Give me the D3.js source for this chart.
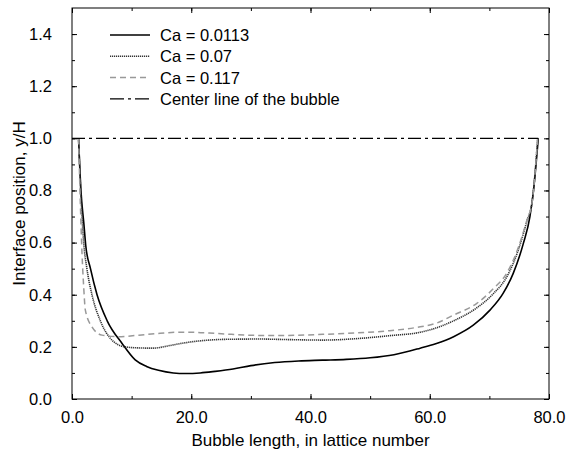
<!DOCTYPE html>
<html>
<head>
<meta charset="utf-8">
<script src="https://cdn.jsdelivr.net/npm/d3@7"></script>
<style>
  body { margin: 0; background: #fff; }
  svg { font-family: "Liberation Sans", Arial, Helvetica, sans-serif; }
</style>
</head>
<body>
<svg id="chart" width="578" height="450"></svg>
<script>
"use strict";

// lattice position vs interface position y/H
const ca0113 = [[1.1, 1.0], [1.5, 0.80], [2.0, 0.67], [2.3, 0.59], [3.1, 0.50], [4.2, 0.40], [5.9, 0.30],
    [8.4, 0.213], [10.6, 0.15], [12.5, 0.125], [14.5, 0.11], [17, 0.100], [19, 0.098], [21.5, 0.100],
    [24, 0.106], [27, 0.115], [30, 0.128], [34, 0.140], [38, 0.146], [42, 0.149], [46, 0.152], [50, 0.158],
    [54, 0.170], [58.4, 0.195], [61, 0.212], [64, 0.239], [67.3, 0.283], [70.1, 0.341], [72.3, 0.405],
    [74, 0.482], [75.7, 0.597], [76.8, 0.70], [77.4, 0.80], [78.2, 1.0]]

const ca07 = [[1.1, 1.0], [1.5, 0.78], [1.96, 0.60], [2.5, 0.50], [3.35, 0.40], [4.75, 0.30], [6.7, 0.226],
    [8.9, 0.20], [11.2, 0.196], [13.6, 0.195], [16.4, 0.205], [18.5, 0.214], [20.3, 0.22], [23, 0.226],
    [25.9, 0.229], [31.5, 0.230], [36, 0.228], [42.1, 0.226], [48, 0.232], [53.3, 0.243], [58.4, 0.256],
    [61, 0.272], [64, 0.300], [67.9, 0.350], [70.7, 0.405], [72.9, 0.468], [74.9, 0.575], [76.3, 0.683],
    [77.2, 0.76], [78.1, 1.0]]

const ca117 = [[1.1, 1.0], [1.4, 0.75], [1.68, 0.558], [1.96, 0.43], [2.24, 0.341], [3.35, 0.277],
    [5.03, 0.245], [7.8, 0.239], [11.2, 0.245], [14.8, 0.252], [17.6, 0.256], [20.3, 0.256], [23, 0.253],
    [25.9, 0.249], [31.5, 0.244], [36, 0.244], [42.1, 0.248], [48, 0.254], [53.3, 0.262], [58.4, 0.277],
    [61, 0.29], [64, 0.322], [67.9, 0.367], [70.7, 0.424], [72.9, 0.482], [74.9, 0.584], [76.3, 0.686],
    [77.2, 0.76], [78.1, 1.0]]

const centerLine = [[0, 1.0], [78.2, 1.0]]

const legendLabels = ["Ca = 0.0113", "Ca = 0.07", "Ca = 0.117", "Center line of the bubble"]
const xTicks = [0, 20, 40, 60, 80]
const yTicks = [0, 0.2, 0.4, 0.6, 0.8, 1.0, 1.2, 1.4]

const margin = { left: 72, right: 29, top: 8, bottom: 51 }
const width = 578
const height = 450

const series = [
    { data: ca0113, stroke: "#000", width: 1.6, dash: null },
    { data: ca07, stroke: "#333", width: 1.6, dash: "1.2,0.8" },
    { data: ca117, stroke: "#999", width: 1.5, dash: "6,4" },
    { data: centerLine, stroke: "#000", width: 1.3, dash: "13,4,3,4" }
]

const svg = d3.select("#chart")

const x = d3.scaleLinear().domain([0, 80]).range([margin.left, width - margin.right])
const y = d3.scaleLinear().domain([0, 1.5]).range([height - margin.bottom, margin.top])

const xMinor = d3.range(0, 81, 10)
const yMinor = d3.range(0, 15).map(d => d / 10)

// axes with inward ticks on all four sides
function addAxis(axis, tx, ty) {
    const g = svg.append("g").attr("transform", `translate(${tx},${ty})`).call(axis)
    g.select(".domain").remove()
    g.selectAll("line").attr("stroke", "#000")
    return g
}

const plotBottom = y(0), plotTop = y(1.5), plotLeft = x(0), plotRight = x(80)

addAxis(d3.axisBottom(x).tickValues(xMinor).tickSize(-3).tickFormat(""), 0, plotBottom)
addAxis(d3.axisTop(x).tickValues(xMinor).tickSize(-3).tickFormat(""), 0, plotTop)
addAxis(d3.axisLeft(y).tickValues(yMinor).tickSize(-3).tickFormat(""), plotLeft, 0)
addAxis(d3.axisRight(y).tickValues(yMinor).tickSize(-3).tickFormat(""), plotRight, 0)

addAxis(d3.axisBottom(x).tickValues(xTicks).tickSize(-5).tickPadding(12.5).tickFormat(d3.format(".1f")), 0, plotBottom)
addAxis(d3.axisTop(x).tickValues(xTicks).tickSize(-5).tickFormat(""), 0, plotTop)
addAxis(d3.axisLeft(y).tickValues(yTicks).tickSize(-5).tickPadding(20).tickFormat(d3.format(".1f")), plotLeft, 0)
addAxis(d3.axisRight(y).tickValues(yTicks).tickSize(-5).tickFormat(""), plotRight, 0)

svg.selectAll(".tick text").attr("font-size", 16.5).attr("fill", "#000")
    .attr("font-family", "\"Liberation Sans\", Arial, sans-serif")

svg.append("rect")
    .attr("x", plotLeft).attr("y", plotTop)
    .attr("width", plotRight - plotLeft).attr("height", plotBottom - plotTop)
    .attr("fill", "none").attr("stroke", "#000").attr("stroke-width", 1)

const line = d3.line().x(d => x(d[0])).y(d => y(d[1])).curve(d3.curveMonotoneX)

svg.append("g").selectAll("path")
    .data(series)
    .join("path")
    .attr("d", d => line(d.data))
    .attr("fill", "none")
    .attr("stroke", d => d.stroke)
    .attr("stroke-width", d => d.width)
    .attr("stroke-dasharray", d => d.dash)

// legend
const legend = svg.append("g")
legendLabels.forEach((label, i) => {
    const ly = 35 + i * 21.3
    const s = series[i]
    legend.append("line")
        .attr("x1", 110).attr("x2", 150).attr("y1", ly).attr("y2", ly)
        .attr("stroke", s.stroke).attr("stroke-width", s.width)
        .attr("stroke-dasharray", i == 3 ? "14,4,3,4" : s.dash)
    legend.append("text")
        .attr("x", 160).attr("y", ly + 6)
        .attr("font-size", 16.5)
        .text(label)
})

// axis titles
svg.append("text")
    .attr("x", (plotLeft + plotRight) / 2).attr("y", 446)
    .attr("text-anchor", "middle").attr("font-size", 17)
    .text("Bubble length, in lattice number")

svg.append("text")
    .attr("transform", `translate(25,${(plotTop + plotBottom) / 2}) rotate(-90)`)
    .attr("text-anchor", "middle").attr("font-size", 17)
    .text("Interface position, y/H")
</script>
</body>
</html>
